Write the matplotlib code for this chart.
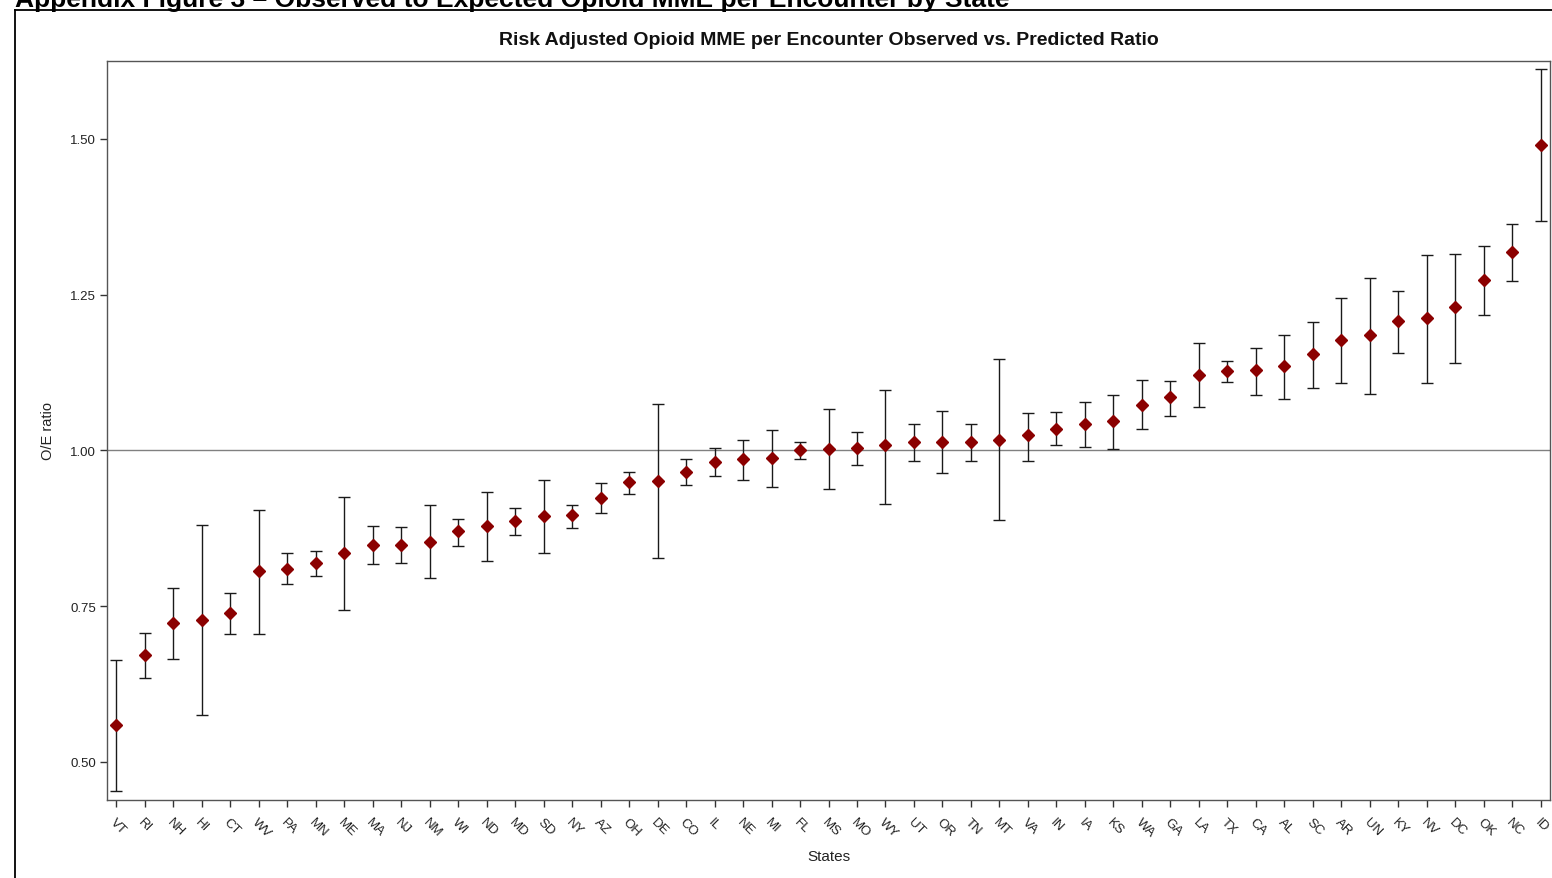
import matplotlib
matplotlib.use("Agg")
import matplotlib.pyplot as plt
from matplotlib.lines import Line2D
import numpy as np

plt.rcParams['font.family'] = ['Liberation Sans', 'DejaVu Sans']

states = ["VT", "RI", "NH", "HI", "CT", "WV", "PA", "MN", "ME", "MA", "NJ", "NM", "WI", "ND",
          "MD", "SD", "NY", "AZ", "OH", "DE", "CO", "IL", "NE", "MI", "FL", "MS", "MO", "WY",
          "UT", "OR", "TN", "MT", "VA", "IN", "IA", "KS", "WA", "GA", "LA", "TX", "CA", "AL",
          "SC", "AR", "UN", "KY", "NV", "DC", "OK", "NC", "ID"]

oe_ratio = [0.560, 0.671, 0.723, 0.728, 0.739, 0.806, 0.810, 0.819, 0.836, 0.849, 0.849, 0.853,
            0.870, 0.878, 0.887, 0.894, 0.897, 0.923, 0.949, 0.951, 0.966, 0.982, 0.986, 0.988,
            1.000, 1.003, 1.004, 1.008, 1.013, 1.013, 1.013, 1.017, 1.024, 1.035, 1.042, 1.048,
            1.073, 1.085, 1.121, 1.127, 1.129, 1.135, 1.155, 1.177, 1.185, 1.207, 1.212, 1.230,
            1.274, 1.319, 1.490]

upper_ci = [0.664, 0.707, 0.780, 0.881, 0.772, 0.905, 0.835, 0.838, 0.925, 0.879, 0.877, 0.913,
            0.890, 0.934, 0.908, 0.952, 0.913, 0.948, 0.966, 1.074, 0.987, 1.004, 1.016, 1.033,
            1.014, 1.066, 1.029, 1.097, 1.043, 1.064, 1.043, 1.146, 1.060, 1.061, 1.078, 1.089,
            1.113, 1.111, 1.172, 1.144, 1.165, 1.186, 1.206, 1.245, 1.276, 1.256, 1.313, 1.315,
            1.328, 1.364, 1.612]

lower_ci = [0.454, 0.635, 0.666, 0.576, 0.706, 0.705, 0.785, 0.799, 0.744, 0.817, 0.820, 0.795,
            0.846, 0.822, 0.865, 0.835, 0.876, 0.900, 0.930, 0.827, 0.945, 0.959, 0.953, 0.942,
            0.986, 0.938, 0.976, 0.914, 0.983, 0.964, 0.983, 0.888, 0.983, 1.008, 1.006, 1.003,
            1.034, 1.056, 1.070, 1.110, 1.089, 1.082, 1.101, 1.109, 1.090, 1.157, 1.109, 1.141,
            1.218, 1.272, 1.368]

y_ticks = [0.50, 0.75, 1.00, 1.25, 1.50]

fig = plt.figure(figsize=(15.52, 8.79), dpi=100)
ax = fig.add_axes([107/1552, 1-801/879, (1550-107)/1552, (801-62)/879])

x = np.arange(len(states))
vals = np.array(oe_ratio)
yerr = np.vstack([vals - np.array(lower_ci), np.array(upper_ci) - vals])

ax.axhline(1.0, color='#808080', lw=1.0, zorder=1)
ax.errorbar(x, vals, yerr=yerr, fmt='none', ecolor='#1a1a1a', elinewidth=1.0,
            capsize=4, capthick=1.0, zorder=2)
ax.plot(x, vals, linestyle='none', marker='D', markersize=6.2, color='#8B0000',
        markeredgecolor='#8B0000', zorder=3)

ax.set_xlim(-0.32, len(states) - 1 + 0.32)
ax.set_ylim(0.439, 1.625)
ax.set_yticks(y_ticks)
ax.set_yticklabels([f"{t:.2f}" for t in y_ticks])
ax.set_xticks(x)
ax.set_xticklabels(states, rotation=-45, ha='left', va='top', rotation_mode='anchor')

ax.tick_params(axis='both', direction='out', length=5, width=1, color='#333333',
               labelsize=9.5, labelcolor='#222222')
ax.tick_params(axis='x', pad=6)
ax.tick_params(axis='y', pad=3)

for s in ax.spines.values():
    s.set_color('#555555')
    s.set_linewidth(1.0)

ax.set_title("Risk Adjusted Opioid MME per Encounter Observed vs. Predicted Ratio",
             fontsize=14, fontweight='bold', color='#111111', pad=12)
ax.set_ylabel("O/E ratio", fontsize=10.5, color='#222222', labelpad=11)
ax.set_xlabel("States", fontsize=11, color='#222222', labelpad=7)

# outer frame of the figure panel
fig.add_artist(Line2D([15/1552, 15/1552], [0, 1-11/879], color='black', lw=1.3,
                      transform=fig.transFigure))
fig.add_artist(Line2D([15/1552, 1.0], [1-11/879, 1-11/879], color='black', lw=1.3,
                      transform=fig.transFigure))

fig.text(15/1552, 1.0, "Appendix Figure 3 \u2013 Observed to Expected Opioid MME per Encounter by State",
         ha='left', va='center', fontsize=19, fontweight='bold', color='black')

fig.savefig("out.png", dpi=100)
